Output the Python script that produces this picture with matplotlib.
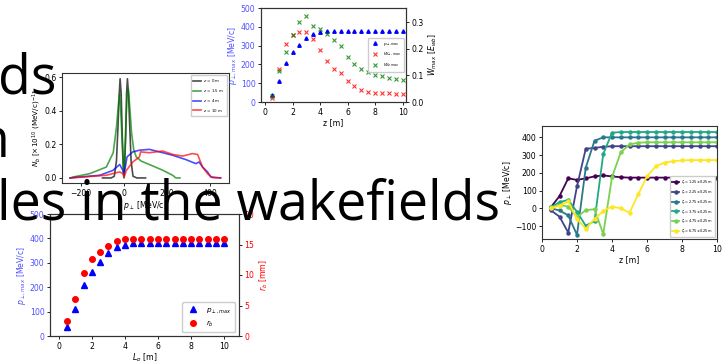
import numpy as np
import matplotlib
matplotlib.use('Agg')
import matplotlib.pyplot as plt

W, H = 723, 361

# ---- chart A: transverse momentum distributions ----
pA_black = [-100, -60, -45, -35, -28, -22, -18, -13, -8, -3, 0, 3, 8, 12, 16, 21, 27, 33, 42, 60, 100]
nA_black = [0, 0, 0.01, 0.1, 0.3, 0.5, 0.59, 0.5, 0.25, 0.08, 0.04, 0.08, 0.25, 0.5, 0.59, 0.5, 0.3, 0.1, 0.01, 0, 0]
pA_green = [-250, -235, -158, -82, -50, -35, -25, -20, -15, -8, -3, 0, 3, 8, 14, 20, 27, 35, 45, 57, 80, 118, 180, 226, 241, 260]
nA_green = [0, 0.006, 0.026, 0.065, 0.15, 0.3, 0.45, 0.5, 0.4, 0.2, 0.05, 0.0, 0.08, 0.3, 0.48, 0.53, 0.42, 0.27, 0.17, 0.125, 0.1, 0.08, 0.046, 0.016, 0.0, 0.0]
pA_blue = [-250, -235, -112, -51, -20, -5, 0, 14, 41, 72, 118, 165, 226, 288, 334, 349, 365, 388, 403, 449]
nA_blue = [0, 0.002, 0.016, 0.045, 0.08, 0.045, 0.016, 0.125, 0.155, 0.165, 0.17, 0.155, 0.135, 0.109, 0.085, 0.095, 0.065, 0.036, 0.006, 0]
pA_red = [-250, -82, -20, -5, 0, 11, 41, 72, 77, 118, 180, 226, 272, 318, 342, 365, 388, 411, 449]
nA_red = [0, 0.016, 0.036, 0.026, 0.002, 0.045, 0.095, 0.125, 0.155, 0.15, 0.16, 0.14, 0.13, 0.145, 0.14, 0.065, 0.026, 0.002, 0]

# ---- charts B and C: maxima versus z ----
z = np.arange(0.5, 10.01, 0.5)
p_max = [37, 112, 210, 264, 302, 339, 363, 374, 380, 380, 380, 380, 380, 380, 380, 380, 380, 380, 380, 380]
W_perp = [0.014, 0.124, 0.219, 0.251, 0.261, 0.261, 0.238, 0.195, 0.152, 0.122, 0.109, 0.080, 0.059, 0.045,
          0.039, 0.035, 0.033, 0.032, 0.030, 0.030]
W_z = [0.021, 0.115, 0.187, 0.253, 0.300, 0.324, 0.285, 0.274, 0.256, 0.232, 0.210, 0.168, 0.142, 0.122,
       0.112, 0.103, 0.097, 0.090, 0.087, 0.084]
r_b = [2.5, 6.0, 10.4, 12.7, 13.7, 14.7, 15.5, 15.9, 15.9, 15.9, 15.9, 15.9, 15.9, 15.9, 15.9, 15.9, 15.9,
       15.9, 15.9, 15.9]

# ---- chart D: p_perp of slices ----
slice_labels = ['1.25', '2.25', '2.75', '3.75', '4.75', '6.75']
p_slices = [
    [5, 69, 169, 160, 169, 180, 185, 180, 175, 173, 173, 173, 173, 173, 173, 173, 173, 173, 173, 173],
    [-11, -47, -137, 124, 336, 340, 347, 350, 350, 350, 350, 350, 350, 350, 350, 350, 350, 350, 350, 350],
    [0, -12, -40, -150, 229, 381, 400, 400, 400, 400, 400, 400, 400, 400, 400, 400, 400, 400, 400, 400],
    [5, 35, 47, -20, -98, -72, 306, 426, 430, 430, 430, 430, 430, 430, 430, 430, 430, 430, 430, 430],
    [5, 20, 10, -50, -10, -5, -145, 176, 315, 360, 370, 372, 372, 372, 372, 372, 372, 372, 372, 372],
    [0, 15, 40, -60, -115, -60, -15, 10, 0, -25, 79, 180, 237, 258, 265, 270, 272, 272, 272, 272],
]

fig = plt.figure(figsize=(W / 100, H / 100), dpi=100)
fs = 5.6
spine_c = '#333333'
blue_txt = '#5050ff'


def ax_at(x0, y0, x1, y1):
    # pixel box (left, top, right, bottom) -> axes
    return fig.add_axes([x0 / W, 1 - y1 / H, (x1 - x0) / W, (y1 - y0) / H])


def style(ax):
    for s in ax.spines.values():
        s.set_color(spine_c)
        s.set_linewidth(0.8)
    ax.tick_params(labelsize=fs, length=2.5, width=0.6, pad=1.5)


# chart A
axA = ax_at(62, 73, 229, 183)
axA.plot(pA_black, nA_black, color='black', alpha=0.7, lw=1.2, label=r'$z$ = 0 m')
axA.plot(pA_green, nA_green, color='green', alpha=0.7, lw=1.2, label=r'$z$ = 1.5 m')
axA.plot(pA_blue, nA_blue, color='blue', alpha=0.7, lw=1.2, label=r'$z$ = 4 m')
axA.plot(pA_red, nA_red, color='red', alpha=0.7, lw=1.2, label=r'$z$ = 10 m')
axA.set_xlim(-288, 488)
axA.set_ylim(-0.03, 0.624)
axA.set_xticks([-200, 0, 200, 400])
axA.set_yticks([0.0, 0.2, 0.4, 0.6])
axA.set_xlabel(r'$p_\perp$ [MeV/c]', fontsize=fs, labelpad=1)
axA.set_ylabel(r'$N_b$ [$\times10^{10}$ (MeV/c)$^{-1}$]', fontsize=fs - 0.4, labelpad=1)
style(axA)
axA.legend(loc='upper right', fontsize=2.9, handlelength=2.0, borderpad=0.6, labelspacing=0.7,
           handletextpad=0.6, framealpha=1)

# chart B
axB = ax_at(261, 8, 406, 102)
axB.plot(z, p_max, '^', color='blue', ms=2.5, label=r'$p_{\perp,max}$')
axB.set_xlim(-0.29, 10.24)
axB.set_ylim(0, 500)
axB.set_xticks(range(0, 11, 2))
axB.set_ylabel(r'$p_{\perp,max}$ [MeV/c]', fontsize=fs, color=blue_txt, labelpad=1)
axB.set_xlabel('z [m]', fontsize=fs, labelpad=1)
style(axB)
axB.tick_params(axis='y', labelcolor=blue_txt)
axB2 = axB.twinx()
axB2.plot(z, W_perp, 'x', color='red', ms=2.5, mew=0.8, alpha=0.8, label=r'$W_{\perp,max}$')
axB2.plot(z, W_z, 'x', color='green', ms=2.5, mew=0.8, alpha=0.8, label=r'$W_{z,max}$')
axB2.set_ylim(0, 0.3525)
axB2.set_yticks([0.0, 0.1, 0.2, 0.3])
axB2.set_ylabel(r'$W_{max}$ [$E_{wb}$]', fontsize=fs, labelpad=2)
style(axB2)
hB = axB.get_legend_handles_labels()
hB2 = axB2.get_legend_handles_labels()
axB2.legend(hB[0] + hB2[0], hB[1] + hB2[1], loc='center right', fontsize=3.2,
            borderpad=0.6, labelspacing=0.7, framealpha=1)

# chart C
axC = ax_at(50, 214, 239, 336)
axC.plot(z, p_max, '^', color='blue', ms=4, label=r'$p_{\perp,max}$')
axC.set_xlim(-0.53, 10.9)
axC.set_ylim(0, 500)
axC.set_xticks(range(0, 11, 2))
axC.set_xlabel(r'$L_p$ [m]', fontsize=fs, labelpad=1)
axC.set_ylabel(r'$p_{\perp,max}$ [MeV/c]', fontsize=fs, color=blue_txt, labelpad=1)
style(axC)
axC.tick_params(axis='y', labelcolor=blue_txt)
axC2 = axC.twinx()
axC2.plot(z, r_b, 'o', color='red', ms=4, label=r'$r_b$')
axC2.set_ylim(0, 20)
axC2.set_yticks(range(0, 21, 5))
axC2.set_ylabel(r'$r_b$ [mm]', fontsize=fs, color='red', labelpad=2)
style(axC2)
axC2.tick_params(axis='y', labelcolor='red')
hC = axC.get_legend_handles_labels()
hC2 = axC2.get_legend_handles_labels()
axC2.legend(hC[0] + hC2[0], hC[1] + hC2[1], loc='lower right', fontsize=fs - 0.4, framealpha=1,
            borderpad=0.5)

# chart D
axD = ax_at(542, 126, 717, 239)
colors = plt.cm.viridis(np.linspace(0, 1, len(p_slices)))
for lab, vals, c in zip(slice_labels, p_slices, colors):
    axD.plot(z, vals, '-o', color=c, lw=1.3, ms=2.2, label=r'$\zeta_p$= ' + lab + r'$\pm$0.25 m')
axD.set_xlim(0, 10)
axD.set_ylim(-173, 464)
axD.set_xticks(range(0, 11, 2))
axD.set_yticks(range(-100, 401, 100))
axD.set_xlabel('z [m]', fontsize=fs, labelpad=1)
axD.set_ylabel(r'$p_\perp$ [MeV/c]', fontsize=fs, labelpad=1)
style(axD)
axD.legend(loc='lower right', fontsize=2.5, handlelength=2.0, borderpad=0.6, labelspacing=0.6,
           handletextpad=0.6, framealpha=1)

# large slide text, cut at the left edge
big = dict(fontsize=38.6, family=['Open Sans', 'DejaVu Sans'], va='baseline', ha='left', color='black', zorder=10)
fig.text(-2 / W, 1 - 94 / H, 'ds', **big)
fig.text(-24 / W, 1 - 157 / H, 'n', **big)
fig.text(-3 / W, 1 - 219 / H, 'les in the wakefields', **big)

fig.savefig('out.png', dpi=100)
